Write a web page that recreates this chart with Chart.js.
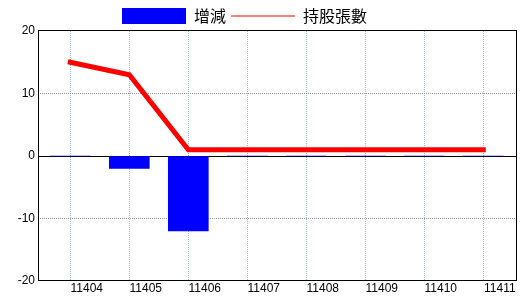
<!DOCTYPE html>
<html>
<head>
<meta charset="utf-8">
<script src="https://cdn.jsdelivr.net/npm/chart.js@4/dist/chart.umd.min.js"></script>
<style>
  html, body { margin: 0; padding: 0; background: #fff; }
  canvas { display: block; }
</style>
</head>
<body>
<canvas id="chart" width="520" height="300"></canvas>
<script>
// ==================== Dados ====================
const months = [11404, 11405, 11406, 11407, 11408, 11409, 11410, 11411];
const change = [0, -2, -12, 0, 0, 0, 0, 0];        // 增減
const holding = [15, 13, 1, 1, 1, 1, 1, 1];        // 持股張數
const yTicks = [-20, -10, 0, 10, 20];

const seriesNames = ['增減', '持股張數'];

// ==================== Plugins ====================
// moldura do gráfico (topo e direita incluídos)
const frame = {
  id: 'frame',
  afterDraw(chart) {
    const { ctx, chartArea: a } = chart;
    ctx.save();
    ctx.strokeStyle = '#000';
    ctx.lineWidth = 1;
    ctx.strokeRect(a.left + 0.5, a.top - 0.5, a.right - a.left, a.bottom - a.top);
    ctx.restore();
  }
};

// legenda deslocada pra esquerda / baixo como no original
const legendPos = {
  id: 'legendPos',
  afterLayout(chart) {
    if (!chart.legend) return;
    chart.legend.left = 117;
    chart.legend.top = 3;
  }
};

// ==================== Chart ====================
const ctx = document.getElementById('chart').getContext('2d');
new Chart(ctx, {
  type: 'bar',
  data: {
    datasets: [
      {
        type: 'bar',
        label: seriesNames[0],
        data: months.map((m, i) => ({ x: m, y: change[i] })),
        backgroundColor: '#0000ff',
        borderColor: '#0000ff',
        borderWidth: 0,
        barThickness: 40
      },
      {
        type: 'line',
        label: seriesNames[1],
        data: months.map((m, i) => ({ x: m, y: holding[i] })),
        borderColor: '#ff0000',
        backgroundColor: '#ff0000',
        borderWidth: 5,
        borderCapStyle: 'square',
        borderJoinStyle: 'miter',
        pointRadius: 0,
        tension: 0
      }
    ]
  },
  options: {
    responsive: false,
    animation: false,
    layout: { padding: { left: 0, right: 4, top: 0, bottom: 0 } },
    plugins: {
      tooltip: { enabled: false },
      legend: {
        display: true,
        position: 'top',
        align: 'start',
        labels: {
          usePointStyle: true,
          pointStyleWidth: 64,
          boxHeight: 16,
          padding: 5,
          color: '#000',
          font: { family: '"Noto Sans CJK TC", "Noto Sans CJK SC", sans-serif', size: 16 },
          generateLabels: chart => chart.data.datasets.map((ds, i) => ({
            text: ds.label,
            fillStyle: ds.backgroundColor,
            strokeStyle: ds.borderColor,
            lineWidth: i === 0 ? 0 : 1,
            pointStyle: i === 0 ? 'rect' : 'line',
            hidden: false,
            datasetIndex: i,
            fontColor: '#000'
          }))
        }
      }
    },
    scales: {
      x: {
        type: 'linear',
        offset: false,
        min: months[0] - 32.3 / 59,
        max: months[months.length - 1] + 32.7 / 59,
        afterFit: s => { s.height = 19; },
        afterBuildTicks: s => { s.ticks = months.map(v => ({ value: v })); },
        ticks: {
          stepSize: 1,
          includeBounds: false,
          autoSkip: false,
          maxRotation: 0,
          padding: 0,
          labelOffset: 16.5,
          color: '#000',
          font: { family: '"Liberation Sans Narrow", "Liberation Sans", Arial, sans-serif', size: 12 },
          callback: v => String(v)
        },
        grid: { color: '#9fbfcc', lineWidth: 1, drawTicks: false, offset: false },
        border: { display: false, dash: [1, 1] }
      },
      y: {
        min: yTicks[0],
        max: yTicks[yTicks.length - 1],
        afterFit: s => { s.width = 38; },
        afterBuildTicks: s => { s.ticks = yTicks.map(v => ({ value: v })); },
        ticks: {
          padding: 3,
          color: '#000',
          font: { family: '"Liberation Sans Narrow", "Liberation Sans", Arial, sans-serif', size: 12 },
          callback: v => String(v)
        },
        grid: {
          color: c => (c.tick && c.tick.value === 0 ? '#000' : '#999999'),
          lineWidth: c => (c.tick && Math.abs(c.tick.value) === 20 ? 0 : 1),
          drawTicks: false
        },
        border: {
          display: false,
          dash: c => (c.tick && c.tick.value === 0 ? [] : [1, 1])
        }
      }
    }
  },
  plugins: [frame, legendPos]
});
</script>
</body>
</html>
